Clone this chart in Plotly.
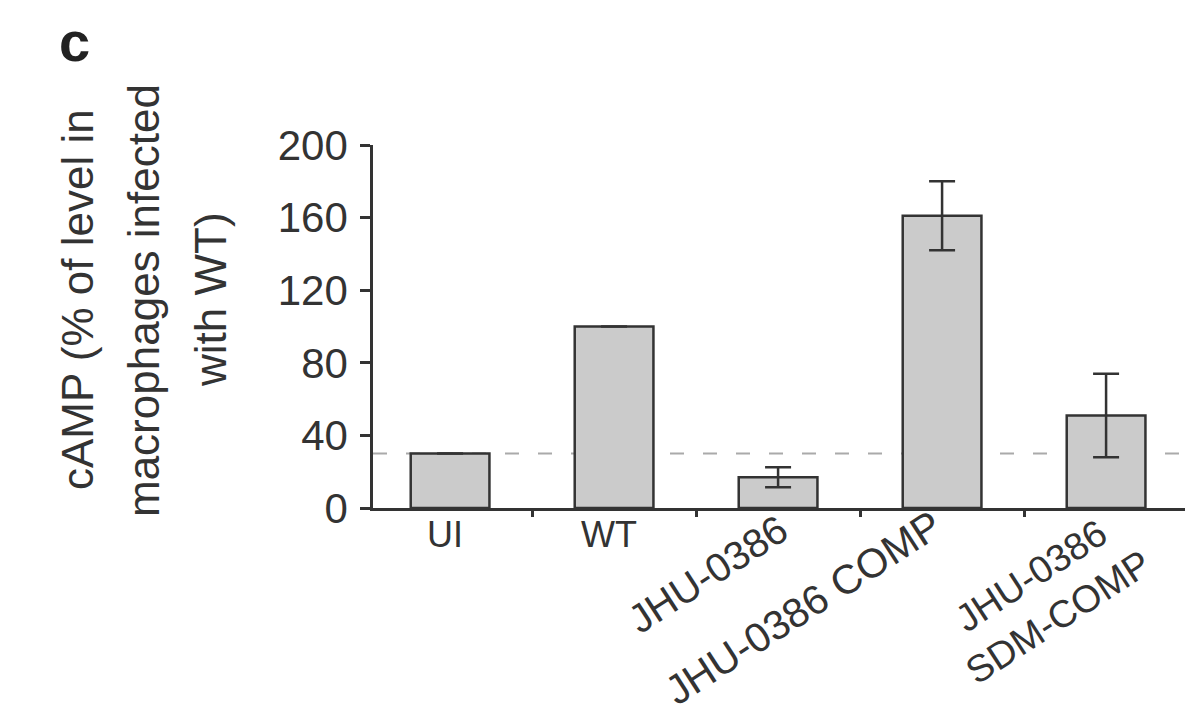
import plotly.graph_objects as go

# ---- data ----
categories = ["UI", "WT", "JHU-0386", "JHU-0386 COMP", "JHU-0386<br>SDM-COMP"]
camp_values = [30, 100, 17, 161, 51]
camp_errors = [0, 0, 5.5, 19, 23]
baseline_level = 30
y_ticks = [0, 40, 80, 120, 160, 200]
y_title_lines = ["cAMP (% of level in", "macrophages infected", "with WT)"]

# ---- style ----
FONT = "Liberation Sans, Arial, Helvetica, sans-serif"
DARK = "#333333"
label_angles = [0, 0, -33, -33, -33]
label_sizes = [36, 36, 40, 41, 38]
label_xshift = [-5, -5, 20, 10, 54]
label_yshift = [-4, -4, 4, 9, 10]
title_line_x = [77, 143, 210]

# page body has an 8px margin; margins are set so the plot box lands at
# x 373..1193, y 145..508 of the window
PAD = 8
PL, PR, PT, PB = 373, 1193, 145, 508
W, H = 1193, 722

xpos = list(range(len(categories)))

fig = go.Figure()
fig.add_trace(go.Bar(
    x=xpos, y=camp_values, width=0.48,
    marker=dict(color="#cbcbcb", line=dict(color=DARK, width=2.5)),
    error_y=dict(type="data", array=camp_errors, visible=True,
                 color=DARK, thickness=2.5, width=13),
    showlegend=False, hoverinfo="skip",
))

fig.add_shape(type="line", xref="paper", yref="y", x0=0, x1=1,
              y0=baseline_level, y1=baseline_level, layer="below",
              line=dict(color="#aaaaaa", width=2, dash="14px,19px"))

for i, cat in enumerate(categories):
    ang = label_angles[i]
    fig.add_annotation(
        x=xpos[i], y=0, xref="x", yref="y", text=cat, showarrow=False,
        textangle=ang, xanchor="center" if ang == 0 else "right",
        yanchor="top", xshift=label_xshift[i], yshift=label_yshift[i],
        font=dict(family=FONT, size=label_sizes[i], color=DARK),
        align="center",
    )

pw, ph = PR - PL, PB - PT
for line, lx in zip(y_title_lines, title_line_x):
    fig.add_annotation(
        x=-(PL - lx) / pw, y=(PB - 300) / ph, xref="paper", yref="paper",
        text=line, showarrow=False, textangle=-90, xanchor="center",
        yanchor="middle", font=dict(family=FONT, size=44, color=DARK),
    )
fig.add_annotation(
    x=-(PL - 74) / pw, y=(PB - 41) / ph, xref="paper", yref="paper",
    text="<b>c</b>", showarrow=False, xanchor="center", yanchor="middle",
    font=dict(family=FONT, size=56, color="#222222"),
)

fig.update_xaxes(
    range=[-0.47, 4.53], showgrid=False, zeroline=False,
    showline=True, linecolor=DARK, linewidth=2.5,
    tickmode="array", tickvals=[0.5, 1.5, 2.5, 3.5, 4.5],
    ticktext=[""] * 5, ticks="outside", ticklen=6, tickwidth=2.5,
    tickcolor=DARK, automargin=False,
)
fig.update_yaxes(
    range=[0, 200], showgrid=False, zeroline=False,
    showline=True, linecolor=DARK, linewidth=2.5,
    tickmode="array", tickvals=y_ticks, ticks="outside", ticklen=10,
    tickwidth=2.5, tickcolor=DARK, ticklabelstandoff=4,
    tickfont=dict(family=FONT, size=42, color=DARK), automargin=False,
)

fig.update_layout(
    width=W, height=H, autosize=False,
    margin=dict(l=PL - PAD, r=W - (PR - PAD), t=PT - PAD, b=H - (PB - PAD)),
    paper_bgcolor="white", plot_bgcolor="white",
    font=dict(family=FONT),
)

fig.write_html("out.html")
